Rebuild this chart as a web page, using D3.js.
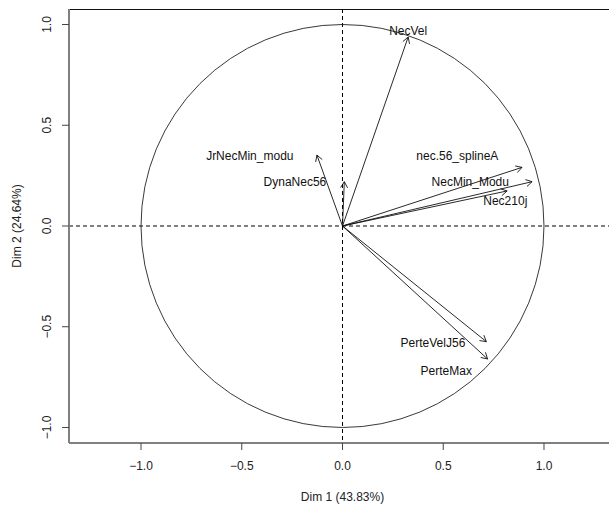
<!DOCTYPE html>
<html>
<head>
<meta charset="utf-8">
<script src="https://cdn.jsdelivr.net/npm/d3@7"></script>
<style>
  html, body { margin: 0; padding: 0; background: #fff; }
  svg { display: block; font-family: "Liberation Sans", Arial, sans-serif; }
</style>
</head>
<body>
<svg id="chart" width="609" height="512"></svg>
<script>
// Variables factor map: correlation of each variable with Dim 1 and Dim 2
const variables = ["NecVel", "JrNecMin_modu", "DynaNec56", "nec.56_splineA",
                   "NecMin_Modu", "Nec210j", "PerteVelJ56", "PerteMax"];
const dim1 = [0.326, -0.127, 0.009, 0.891, 0.941, 0.817, 0.714, 0.720];
const dim2 = [0.938, 0.352, 0.220, 0.291, 0.220, 0.174, -0.574, -0.660];
// label anchor points (in the same units as the coordinates)
const labelX = [0.326, -0.460, -0.236, 0.570, 0.634, 0.808, 0.449, 0.515];
const labelY = [0.968, 0.347, 0.221, 0.347, 0.220, 0.126, -0.582, -0.718];

const xTicks = [-1.0, -0.5, 0.0, 0.5, 1.0];
const yTicks = [-1.0, -0.5, 0.0, 0.5, 1.0];
const xTitle = "Dim 1 (43.83%)";
const yTitle = "Dim 2 (24.64%)";

const svg = d3.select("#chart");
const plot = { left: 69, top: 9, bottom: 443, right: 620 };

// equal aspect: same pixels per unit on both axes
const y = d3.scaleLinear().domain([-1.077, 1.077]).range([plot.bottom, plot.top]);
const unit = (plot.bottom - plot.top) / 2.154;
const x0 = 342.5;
const x = d3.scaleLinear().domain([0, 1]).range([x0, x0 + unit]);

const fmt = d3.format(".1f");

// dashed reference lines through the origin
svg.append("line")
  .attr("x1", plot.left).attr("x2", plot.right)
  .attr("y1", y(0)).attr("y2", y(0))
  .attr("stroke", "#000").attr("stroke-width", 1).attr("stroke-dasharray", "4,3");
svg.append("line")
  .attr("x1", x(0)).attr("x2", x(0))
  .attr("y1", plot.top).attr("y2", plot.bottom)
  .attr("stroke", "#000").attr("stroke-width", 1).attr("stroke-dasharray", "4,3");

// unit circle
svg.append("circle")
  .attr("cx", x(0)).attr("cy", y(0))
  .attr("r", x(1) - x(0))
  .attr("fill", "none").attr("stroke", "#222").attr("stroke-width", 0.9);

// arrows from the origin
const head = 7, ang = Math.PI / 6;
const arrows = svg.append("g").attr("stroke", "#111").attr("stroke-width", 0.9).attr("fill", "none");
variables.forEach((v, i) => {
  const sx = x(0), sy = y(0), ex = x(dim1[i]), ey = y(dim2[i]);
  arrows.append("line").attr("x1", sx).attr("y1", sy).attr("x2", ex).attr("y2", ey);
  const th = Math.atan2(ey - sy, ex - sx);
  const p1 = [ex - head * Math.cos(th - ang), ey - head * Math.sin(th - ang)];
  const p2 = [ex - head * Math.cos(th + ang), ey - head * Math.sin(th + ang)];
  arrows.append("path").attr("d", `M${p1[0]},${p1[1]}L${ex},${ey}L${p2[0]},${p2[1]}`);
});

// variable names
svg.append("g").selectAll("text").data(variables).join("text")
  .attr("x", (d, i) => x(labelX[i]))
  .attr("y", (d, i) => y(labelY[i]))
  .attr("dy", "0.35em")
  .attr("text-anchor", "middle")
  .attr("font-size", 12)
  .attr("fill", "#111")
  .text(d => d);

// box: top edge
svg.append("line")
  .attr("x1", plot.left).attr("x2", plot.right)
  .attr("y1", plot.top + 0.5).attr("y2", plot.top + 0.5)
  .attr("stroke", "#111").attr("stroke-width", 1);

// bottom axis
const gx = svg.append("g");
gx.append("line")
  .attr("x1", plot.left).attr("x2", plot.right)
  .attr("y1", plot.bottom).attr("y2", plot.bottom)
  .attr("stroke", "#808080").attr("stroke-width", 2);
gx.selectAll(".tk").data(xTicks).join("line")
  .attr("x1", d => x(d)).attr("x2", d => x(d))
  .attr("y1", plot.bottom).attr("y2", plot.bottom + 7)
  .attr("stroke", "#444").attr("stroke-width", 1);
gx.selectAll("text").data(xTicks).join("text")
  .attr("x", d => x(d)).attr("y", plot.bottom + 27)
  .attr("text-anchor", "middle").attr("font-size", 12).attr("fill", "#222")
  .text(d => fmt(d));

// left axis
const gy = svg.append("g");
gy.append("line")
  .attr("x1", plot.left).attr("x2", plot.left)
  .attr("y1", plot.top).attr("y2", plot.bottom)
  .attr("stroke", "#808080").attr("stroke-width", 2);
gy.selectAll(".tk").data(yTicks).join("line")
  .attr("x1", plot.left - 7).attr("x2", plot.left)
  .attr("y1", d => y(d)).attr("y2", d => y(d))
  .attr("stroke", "#444").attr("stroke-width", 1);
gy.selectAll("text").data(yTicks).join("text")
  .attr("transform", d => `translate(${plot.left - 18},${y(d)}) rotate(-90)`)
  .attr("text-anchor", "middle").attr("font-size", 12).attr("fill", "#222")
  .text(d => fmt(d));

// axis titles
svg.append("text")
  .attr("x", x(0)).attr("y", 501)
  .attr("text-anchor", "middle").attr("font-size", 12).attr("fill", "#222")
  .text(xTitle);
svg.append("text")
  .attr("transform", `translate(21,${y(0)}) rotate(-90)`)
  .attr("text-anchor", "middle").attr("font-size", 12).attr("fill", "#222")
  .text(yTitle);
</script>
</body>
</html>
